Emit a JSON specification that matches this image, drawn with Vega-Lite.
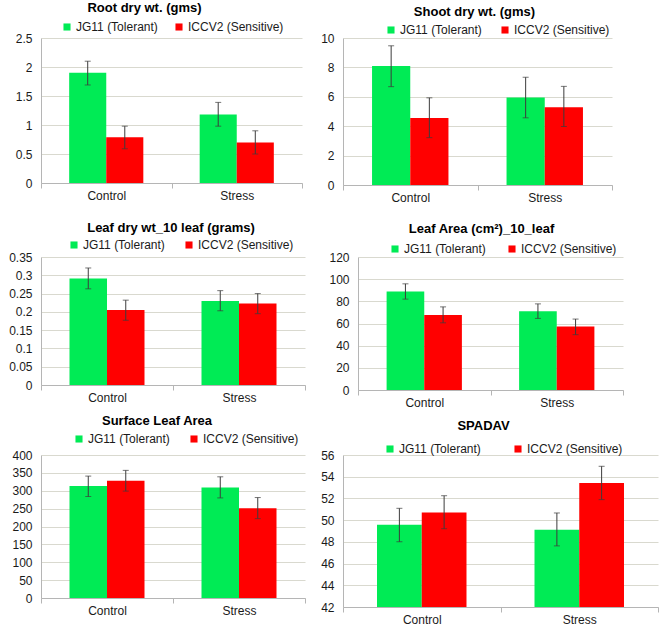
{
  "$schema": "https://vega.github.io/schema/vega-lite/v6.json",
  "padding": {"left": 8, "top": 2, "right": 0, "bottom": 0},
  "background": "white",
  "datasets": {
    "d": [
      {"p": "root", "cond": "Control", "geno": "JG11 (Tolerant)", "v": 1.90, "lo": 1.69, "hi": 2.10},
      {"p": "root", "cond": "Control", "geno": "ICCV2 (Sensitive)", "v": 0.79, "lo": 0.59, "hi": 0.98},
      {"p": "root", "cond": "Stress", "geno": "JG11 (Tolerant)", "v": 1.18, "lo": 0.98, "hi": 1.39},
      {"p": "root", "cond": "Stress", "geno": "ICCV2 (Sensitive)", "v": 0.70, "lo": 0.50, "hi": 0.90},
      {"p": "shoot", "cond": "Control", "geno": "JG11 (Tolerant)", "v": 8.09, "lo": 6.69, "hi": 9.47},
      {"p": "shoot", "cond": "Control", "geno": "ICCV2 (Sensitive)", "v": 4.55, "lo": 3.22, "hi": 5.93},
      {"p": "shoot", "cond": "Stress", "geno": "JG11 (Tolerant)", "v": 5.95, "lo": 4.57, "hi": 7.33},
      {"p": "shoot", "cond": "Stress", "geno": "ICCV2 (Sensitive)", "v": 5.29, "lo": 3.98, "hi": 6.71},
      {"p": "leafdry", "cond": "Control", "geno": "JG11 (Tolerant)", "v": 0.291, "lo": 0.263, "hi": 0.320},
      {"p": "leafdry", "cond": "Control", "geno": "ICCV2 (Sensitive)", "v": 0.205, "lo": 0.177, "hi": 0.232},
      {"p": "leafdry", "cond": "Stress", "geno": "JG11 (Tolerant)", "v": 0.230, "lo": 0.203, "hi": 0.258},
      {"p": "leafdry", "cond": "Stress", "geno": "ICCV2 (Sensitive)", "v": 0.223, "lo": 0.195, "hi": 0.250},
      {"p": "leafarea", "cond": "Control", "geno": "JG11 (Tolerant)", "v": 88.8, "lo": 82.0, "hi": 95.8},
      {"p": "leafarea", "cond": "Control", "geno": "ICCV2 (Sensitive)", "v": 67.6, "lo": 60.6, "hi": 75.0},
      {"p": "leafarea", "cond": "Stress", "geno": "JG11 (Tolerant)", "v": 71.0, "lo": 64.6, "hi": 77.7},
      {"p": "leafarea", "cond": "Stress", "geno": "ICCV2 (Sensitive)", "v": 57.2, "lo": 49.9, "hi": 64.0},
      {"p": "surface", "cond": "Control", "geno": "JG11 (Tolerant)", "v": 313, "lo": 284, "hi": 341},
      {"p": "surface", "cond": "Control", "geno": "ICCV2 (Sensitive)", "v": 328, "lo": 299, "hi": 357},
      {"p": "surface", "cond": "Stress", "geno": "JG11 (Tolerant)", "v": 309, "lo": 280, "hi": 339},
      {"p": "surface", "cond": "Stress", "geno": "ICCV2 (Sensitive)", "v": 251, "lo": 222, "hi": 281},
      {"p": "spadav", "cond": "Control", "geno": "JG11 (Tolerant)", "v": 49.57, "lo": 48.01, "hi": 51.09},
      {"p": "spadav", "cond": "Control", "geno": "ICCV2 (Sensitive)", "v": 50.70, "lo": 49.21, "hi": 52.25},
      {"p": "spadav", "cond": "Stress", "geno": "JG11 (Tolerant)", "v": 49.11, "lo": 47.63, "hi": 50.66},
      {"p": "spadav", "cond": "Stress", "geno": "ICCV2 (Sensitive)", "v": 53.41, "lo": 51.89, "hi": 54.96}
    ]
  },
  "spacing": 7,
  "resolve": {"scale": {"color": "independent", "xOffset": "independent"}, "legend": {"color": "independent"}},
  "vconcat": [
    {
      "spacing": 19,
      "resolve": {"scale": {"color": "independent", "xOffset": "independent"}, "legend": {"color": "independent"}},
      "vconcat": [
        {
          "hconcat": [
            {
              "width": 261, "height": 145,
              "data": {"name": "d"},
              "transform": [{"filter": "datum.p === 'root'"}],
              "title": {"text": "Root dry wt. (gms)", "dx": -27, "offset": 6},
              "encoding": {
                "x": {"field": "cond", "type": "nominal", "title": null, "scale": {"paddingInner": 0, "paddingOuter": 0}},
                "xOffset": {"field": "geno", "type": "nominal", "sort": ["JG11 (Tolerant)", "ICCV2 (Sensitive)"], "scale": {"paddingInner": 0, "paddingOuter": 0.76}}
              },
              "layer": [
                {"mark": "bar", "encoding": {
                  "y": {"field": "v", "type": "quantitative", "title": null, "scale": {"domain": [0, 2.5]}, "axis": {"values": [0, 0.5, 1, 1.5, 2, 2.5], "format": "~r"}},
                  "color": {"field": "geno", "type": "nominal", "scale": {"domain": ["JG11 (Tolerant)", "ICCV2 (Sensitive)"], "range": ["#00EB55", "#FF0000"]},
                    "legend": {"orient": "none", "legendX": 20, "legendY": -17, "direction": "horizontal", "title": null, "columnPadding": 15}}
                }},
                {"mark": {"type": "rule", "color": "#3c3c3c", "strokeWidth": 1}, "encoding": {"y": {"field": "lo", "type": "quantitative", "title": null, "scale": {"domain": [0, 2.5]}, "axis": {"values": [0, 0.5, 1, 1.5, 2, 2.5], "format": "~r"}}, "y2": {"field": "hi"}}},
                {"mark": {"type": "tick", "color": "#3c3c3c", "thickness": 1, "size": 6}, "encoding": {"y": {"field": "lo", "type": "quantitative", "title": null, "scale": {"domain": [0, 2.5]}, "axis": {"values": [0, 0.5, 1, 1.5, 2, 2.5], "format": "~r"}}}},
                {"mark": {"type": "tick", "color": "#3c3c3c", "thickness": 1, "size": 6}, "encoding": {"y": {"field": "hi", "type": "quantitative", "title": null, "scale": {"domain": [0, 2.5]}, "axis": {"values": [0, 0.5, 1, 1.5, 2, 2.5], "format": "~r"}}}}
              ]
            },
            {
              "width": 269, "height": 147,
              "data": {"name": "d"},
              "transform": [{"filter": "datum.p === 'shoot'"}],
              "title": {"text": "Shoot dry wt. (gms)", "dx": -3, "offset": 5},
              "encoding": {
                "x": {"field": "cond", "type": "nominal", "title": null, "scale": {"paddingInner": 0, "paddingOuter": 0}},
                "xOffset": {"field": "geno", "type": "nominal", "sort": ["JG11 (Tolerant)", "ICCV2 (Sensitive)"], "scale": {"paddingInner": 0, "paddingOuter": 0.76}}
              },
              "layer": [
                {"mark": "bar", "encoding": {
                  "y": {"field": "v", "type": "quantitative", "title": null, "scale": {"domain": [0, 10]}, "axis": {"values": [0, 2, 4, 6, 8, 10], "format": "~r"}},
                  "color": {"field": "geno", "type": "nominal", "scale": {"domain": ["JG11 (Tolerant)", "ICCV2 (Sensitive)"], "range": ["#00EB55", "#FF0000"]},
                    "legend": {"orient": "none", "legendX": 42, "legendY": -14, "direction": "horizontal", "title": null, "columnPadding": 17}}
                }},
                {"mark": {"type": "rule", "color": "#3c3c3c", "strokeWidth": 1}, "encoding": {"y": {"field": "lo", "type": "quantitative", "title": null, "scale": {"domain": [0, 10]}, "axis": {"values": [0, 2, 4, 6, 8, 10], "format": "~r"}}, "y2": {"field": "hi"}}},
                {"mark": {"type": "tick", "color": "#3c3c3c", "thickness": 1, "size": 6}, "encoding": {"y": {"field": "lo", "type": "quantitative", "title": null, "scale": {"domain": [0, 10]}, "axis": {"values": [0, 2, 4, 6, 8, 10], "format": "~r"}}}},
                {"mark": {"type": "tick", "color": "#3c3c3c", "thickness": 1, "size": 6}, "encoding": {"y": {"field": "hi", "type": "quantitative", "title": null, "scale": {"domain": [0, 10]}, "axis": {"values": [0, 2, 4, 6, 8, 10], "format": "~r"}}}}
              ]
            }
          ],
          "spacing": 41,
          "bounds": "flush",
          "resolve": {"scale": {"color": "independent", "xOffset": "independent"}, "legend": {"color": "independent"}}
        },
        {
          "hconcat": [
            {
              "width": 264, "height": 128,
              "data": {"name": "d"},
              "transform": [{"filter": "datum.p === 'leafdry'"}],
              "title": {"text": "Leaf dry wt_10 leaf (grams)", "dx": -2, "offset": 4},
              "encoding": {
                "x": {"field": "cond", "type": "nominal", "title": null, "scale": {"paddingInner": 0, "paddingOuter": 0}},
                "xOffset": {"field": "geno", "type": "nominal", "sort": ["JG11 (Tolerant)", "ICCV2 (Sensitive)"], "scale": {"paddingInner": 0, "paddingOuter": 0.76}}
              },
              "layer": [
                {"mark": "bar", "encoding": {
                  "y": {"field": "v", "type": "quantitative", "title": null, "scale": {"domain": [0, 0.35]}, "axis": {"values": [0, 0.05, 0.1, 0.15, 0.2, 0.25, 0.3, 0.35], "format": "~r"}},
                  "color": {"field": "geno", "type": "nominal", "scale": {"domain": ["JG11 (Tolerant)", "ICCV2 (Sensitive)"], "range": ["#00EB55", "#FF0000"]},
                    "legend": {"orient": "none", "legendX": 27, "legendY": -18, "direction": "horizontal", "title": null, "columnPadding": 18}}
                }},
                {"mark": {"type": "rule", "color": "#3c3c3c", "strokeWidth": 1}, "encoding": {"y": {"field": "lo", "type": "quantitative", "title": null, "scale": {"domain": [0, 0.35]}, "axis": {"values": [0, 0.05, 0.1, 0.15, 0.2, 0.25, 0.3, 0.35], "format": "~r"}}, "y2": {"field": "hi"}}},
                {"mark": {"type": "tick", "color": "#3c3c3c", "thickness": 1, "size": 6}, "encoding": {"y": {"field": "lo", "type": "quantitative", "title": null, "scale": {"domain": [0, 0.35]}, "axis": {"values": [0, 0.05, 0.1, 0.15, 0.2, 0.25, 0.3, 0.35], "format": "~r"}}}},
                {"mark": {"type": "tick", "color": "#3c3c3c", "thickness": 1, "size": 6}, "encoding": {"y": {"field": "hi", "type": "quantitative", "title": null, "scale": {"domain": [0, 0.35]}, "axis": {"values": [0, 0.05, 0.1, 0.15, 0.2, 0.25, 0.3, 0.35], "format": "~r"}}}}
              ]
            },
            {
              "width": 265, "height": 133,
              "data": {"name": "d"},
              "transform": [{"filter": "datum.p === 'leafarea'"}],
              "title": {"text": "Leaf Area (cm²)_10_leaf", "dx": -9, "offset": 7},
              "encoding": {
                "x": {"field": "cond", "type": "nominal", "title": null, "scale": {"paddingInner": 0, "paddingOuter": 0}},
                "xOffset": {"field": "geno", "type": "nominal", "sort": ["JG11 (Tolerant)", "ICCV2 (Sensitive)"], "scale": {"paddingInner": 0, "paddingOuter": 0.76}}
              },
              "layer": [
                {"mark": "bar", "encoding": {
                  "y": {"field": "v", "type": "quantitative", "title": null, "scale": {"domain": [0, 120]}, "axis": {"values": [0, 20, 40, 60, 80, 100, 120], "format": "~r"}},
                  "color": {"field": "geno", "type": "nominal", "scale": {"domain": ["JG11 (Tolerant)", "ICCV2 (Sensitive)"], "range": ["#00EB55", "#FF0000"]},
                    "legend": {"orient": "none", "legendX": 31, "legendY": -14, "direction": "horizontal", "title": null, "columnPadding": 20}}
                }},
                {"mark": {"type": "rule", "color": "#3c3c3c", "strokeWidth": 1}, "encoding": {"y": {"field": "lo", "type": "quantitative", "title": null, "scale": {"domain": [0, 120]}, "axis": {"values": [0, 20, 40, 60, 80, 100, 120], "format": "~r"}}, "y2": {"field": "hi"}}},
                {"mark": {"type": "tick", "color": "#3c3c3c", "thickness": 1, "size": 6}, "encoding": {"y": {"field": "lo", "type": "quantitative", "title": null, "scale": {"domain": [0, 120]}, "axis": {"values": [0, 20, 40, 60, 80, 100, 120], "format": "~r"}}}},
                {"mark": {"type": "tick", "color": "#3c3c3c", "thickness": 1, "size": 6}, "encoding": {"y": {"field": "hi", "type": "quantitative", "title": null, "scale": {"domain": [0, 120]}, "axis": {"values": [0, 20, 40, 60, 80, 100, 120], "format": "~r"}}}}
              ]
            }
          ],
          "spacing": 53,
          "bounds": "flush",
          "resolve": {"scale": {"color": "independent", "xOffset": "independent"}, "legend": {"color": "independent"}}
        }
      ]
    },
    {
      "hconcat": [
        {
          "width": 264, "height": 143,
          "data": {"name": "d"},
          "transform": [{"filter": "datum.p === 'surface'"}],
          "title": {"text": "Surface Leaf Area", "dx": -16, "offset": 5},
          "encoding": {
            "x": {"field": "cond", "type": "nominal", "title": null, "scale": {"paddingInner": 0, "paddingOuter": 0}},
            "xOffset": {"field": "geno", "type": "nominal", "sort": ["JG11 (Tolerant)", "ICCV2 (Sensitive)"], "scale": {"paddingInner": 0, "paddingOuter": 0.76}}
          },
          "layer": [
            {"mark": "bar", "encoding": {
              "y": {"field": "v", "type": "quantitative", "title": null, "scale": {"domain": [0, 400]}, "axis": {"values": [0, 50, 100, 150, 200, 250, 300, 350, 400], "format": "~r"}},
              "color": {"field": "geno", "type": "nominal", "scale": {"domain": ["JG11 (Tolerant)", "ICCV2 (Sensitive)"], "range": ["#00EB55", "#FF0000"]},
                "legend": {"orient": "none", "legendX": 32, "legendY": -22, "direction": "horizontal", "title": null, "columnPadding": 18}}
            }},
            {"mark": {"type": "rule", "color": "#3c3c3c", "strokeWidth": 1}, "encoding": {"y": {"field": "lo", "type": "quantitative", "title": null, "scale": {"domain": [0, 400]}, "axis": {"values": [0, 50, 100, 150, 200, 250, 300, 350, 400], "format": "~r"}}, "y2": {"field": "hi"}}},
            {"mark": {"type": "tick", "color": "#3c3c3c", "thickness": 1, "size": 6}, "encoding": {"y": {"field": "lo", "type": "quantitative", "title": null, "scale": {"domain": [0, 400]}, "axis": {"values": [0, 50, 100, 150, 200, 250, 300, 350, 400], "format": "~r"}}}},
            {"mark": {"type": "tick", "color": "#3c3c3c", "thickness": 1, "size": 6}, "encoding": {"y": {"field": "hi", "type": "quantitative", "title": null, "scale": {"domain": [0, 400]}, "axis": {"values": [0, 50, 100, 150, 200, 250, 300, 350, 400], "format": "~r"}}}}
          ]
        },
        {
          "width": 315, "height": 152,
          "data": {"name": "d"},
          "transform": [{"filter": "datum.p === 'spadav'"}],
          "title": {"text": "SPADAV", "dx": -17, "offset": 10},
          "encoding": {
            "x": {"field": "cond", "type": "nominal", "title": null, "scale": {"paddingInner": 0, "paddingOuter": 0}},
            "xOffset": {"field": "geno", "type": "nominal", "sort": ["JG11 (Tolerant)", "ICCV2 (Sensitive)"], "scale": {"paddingInner": 0, "paddingOuter": 0.76}}
          },
          "layer": [
            {"mark": "bar", "encoding": {
              "y": {"field": "v", "type": "quantitative", "title": null, "scale": {"domain": [42, 56], "zero": false}, "axis": {"values": [42, 44, 46, 48, 50, 52, 54, 56], "format": "~r"}},
              "y2": {"datum": 42},
              "color": {"field": "geno", "type": "nominal", "scale": {"domain": ["JG11 (Tolerant)", "ICCV2 (Sensitive)"], "range": ["#00EB55", "#FF0000"]},
                "legend": {"orient": "none", "legendX": 41, "legendY": -12, "direction": "horizontal", "title": null, "columnPadding": 31}}
            }},
            {"mark": {"type": "rule", "color": "#3c3c3c", "strokeWidth": 1}, "encoding": {"y": {"field": "lo", "type": "quantitative", "title": null, "scale": {"domain": [42, 56], "zero": false}, "axis": {"values": [42, 44, 46, 48, 50, 52, 54, 56], "format": "~r"}}, "y2": {"field": "hi"}}},
            {"mark": {"type": "tick", "color": "#3c3c3c", "thickness": 1, "size": 6}, "encoding": {"y": {"field": "lo", "type": "quantitative", "title": null, "scale": {"domain": [42, 56], "zero": false}, "axis": {"values": [42, 44, 46, 48, 50, 52, 54, 56], "format": "~r"}}}},
            {"mark": {"type": "tick", "color": "#3c3c3c", "thickness": 1, "size": 6}, "encoding": {"y": {"field": "hi", "type": "quantitative", "title": null, "scale": {"domain": [42, 56], "zero": false}, "axis": {"values": [42, 44, 46, 48, 50, 52, 54, 56], "format": "~r"}}}}
          ]
        }
      ],
      "spacing": 38,
      "bounds": "flush",
      "resolve": {"scale": {"color": "independent", "xOffset": "independent"}, "legend": {"color": "independent"}}
    }
  ],
  "config": {
    "font": "Liberation Sans",
    "view": {"stroke": null},
    "axis": {"labelFont": "Liberation Sans", "labelFontSize": 12, "labelColor": "#1a1a1a", "domainColor": "#b5b5b5", "gridColor": "#d9d9cf", "tickColor": "#b5b5b5", "labelOverlap": false},
    "axisY": {"ticks": false, "labelPadding": 9, "grid": true, "domain": true},
    "axisX": {"grid": false, "labelPadding": 2, "tickSize": 5, "labelAngle": 0, "tickBand": "extent"},
    "title": {"font": "Liberation Sans", "fontSize": 13, "fontWeight": "bold", "color": "#000000", "anchor": "middle", "frame": "group"},
    "legend": {"symbolType": "square", "symbolSize": 50, "symbolStrokeWidth": 0, "labelFont": "Liberation Sans", "labelFontSize": 12, "labelColor": "#1a1a1a", "labelOffset": 3, "padding": 0}
  }
}
